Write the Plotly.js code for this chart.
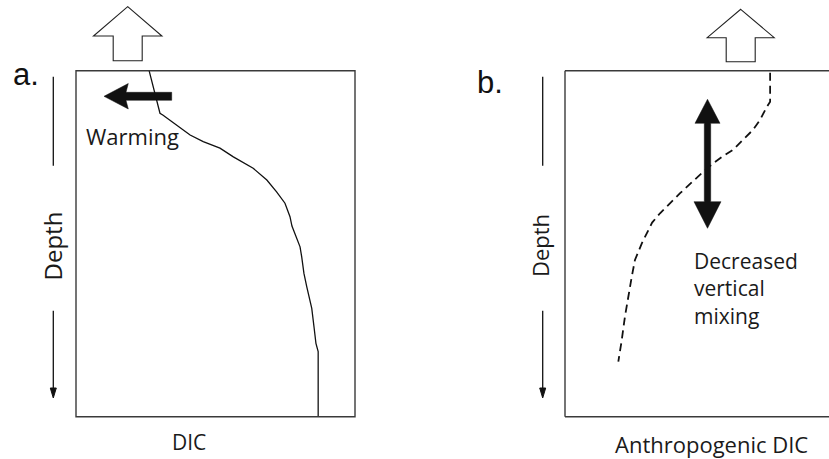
<!DOCTYPE html>
<html>
<head>
<meta charset="utf-8">
<script src="https://cdn.plot.ly/plotly-3.0.1.min.js"></script>
<style>
  html, body { margin: 0; padding: 0; background: #fff; }
  #chart { width: 829px; height: 459px; }
</style>
</head>
<body>
<div id="chart"></div>
<script>
// Panel a: DIC profile with depth (depth in % of the panel, DIC in relative units)
const dicA   = [26.2, 28.0, 29.0, 30.1, 31.1, 36.1, 40.9, 45.6, 51.6, 56.4, 63.5, 68.4, 71.9, 74.9,
                76.7, 77.4, 78.5, 80.3, 80.9, 81.7, 82.7, 83.9, 84.5, 85.3, 86.0, 86.8, 86.8];
const depthA = [0.0, 5.6, 9.3, 12.3, 12.8, 15.7, 18.6, 20.5, 22.4, 24.9, 28.2, 31.6, 35.0, 38.3,
                42.2, 44.9, 47.0, 50.9, 53.8, 58.6, 62.4, 66.3, 68.7, 74.0, 78.8, 81.2, 100.0];

// Panel b: anthropogenic DIC profile
const dicB   = [77.7, 77.7, 76.4, 73.9, 71.2, 67.4, 63.6, 59.5, 56.1, 51.1, 43.6, 36.0, 33.0,
                29.1, 26.5, 25.3, 24.0, 22.7, 21.5, 20.2];
const depthB = [0.6, 9.0, 10.5, 14.2, 17.1, 20.0, 22.9, 24.9, 26.8, 30.1, 35.4, 41.2, 43.9,
                49.9, 54.7, 59.5, 65.3, 71.1, 77.8, 84.1];

const panelLabels = ['a.', 'b.'];
const xTitles     = ['DIC', 'Anthropogenic DIC'];
const yTitle      = 'Depth';
const notes       = ['Warming', 'Decreased<br>vertical<br>mixing'];

const W = 829, H = 459;
const PX = x => x / W;
const PY = y => 1 - y / H;
const ink = '#111';
const frame = '#3a3a3a';
const txtFont = 'Open Sans, Noto Sans, sans-serif';

function path(pts, close) {
  return 'M ' + pts.map(p => PX(p[0]).toFixed(5) + ',' + PY(p[1]).toFixed(5)).join(' L ') + (close ? ' Z' : '');
}
function pathShape(pts, opts) {
  return Object.assign({ type: 'path', xref: 'paper', yref: 'paper', path: path(pts, true),
                         line: { color: ink, width: 1.2 }, fillcolor: 'rgba(0,0,0,0)' }, opts || {});
}
function seg(x0, y0, x1, y1, color, width) {
  return { type: 'line', xref: 'paper', yref: 'paper', x0: PX(x0), y0: PY(y0), x1: PX(x1), y1: PY(y1),
           line: { color: color, width: width } };
}
// hollow block arrow pointing up
function openArrow(cx, tip, base, halfHead, halfShaft, bottom) {
  return pathShape([[cx, tip], [cx + halfHead, base], [cx + halfShaft, base], [cx + halfShaft, bottom],
                    [cx - halfShaft, bottom], [cx - halfShaft, base], [cx - halfHead, base]],
                   { fillcolor: '#fff', line: { color: '#222', width: 1.1 } });
}
// depth axis: a short bar, then a down arrow
function depthAxis(x) {
  return [
    seg(x, 76.7, x, 165.7, ink, 1.3),
    seg(x, 310.7, x, 392, ink, 1.3),
    pathShape([[x, 398], [x + 3, 388], [x - 3, 388]], { fillcolor: ink, line: { color: ink, width: 1 } })
  ];
}

const traces = [
  { x: dicA, y: depthA, xaxis: 'x', yaxis: 'y', mode: 'lines', hoverinfo: 'skip',
    line: { color: ink, width: 1.3 } },
  { x: dicB, y: depthB, xaxis: 'x2', yaxis: 'y2', mode: 'lines', hoverinfo: 'skip',
    line: { color: ink, width: 1.8, dash: '8px,5px' } }
];

const yDom = [PY(416.7), PY(70.7)];
const hidden = { visible: false, fixedrange: true };

const shapes = [
  // panel a frame
  { type: 'rect', xref: 'paper', yref: 'paper', x0: PX(76), x1: PX(355), y0: PY(416.7), y1: PY(70.7),
    line: { color: frame, width: 1.4 } },
  // panel b frame (runs past the right edge)
  seg(565, 70.7, 835, 70.7, frame, 1.4),
  seg(565, 70.7, 565, 416.7, frame, 1.4),
  seg(565, 416.7, 835, 416.7, frame, 1.4),
  // upward hollow arrows
  openArrow(127.7, 6.7, 36, 34.2, 14.5, 60.7),
  openArrow(740.7, 9.3, 37.7, 33.5, 14.5, 61.7),
  // warming arrow pointing left
  pathShape([[104, 96.3], [128.3, 83.5], [126, 92.3], [171.7, 92.3], [171.7, 100.3], [126, 100.3], [128.3, 109]],
            { fillcolor: ink, line: { color: ink, width: 0.5 } }),
  // double-headed mixing arrow
  pathShape([[707.5, 99.3], [720, 123.3], [710.7, 123.3], [710.7, 201.7], [721, 201.7], [707.5, 228.3],
             [694, 201.7], [704.3, 201.7], [704.3, 123.3], [695, 123.3]],
            { fillcolor: ink, line: { color: ink, width: 0.5 } })
].concat(depthAxis(53.3), depthAxis(542.7));

function note(text, x, y, size, opts) {
  return Object.assign({ xref: 'paper', yref: 'paper', x: PX(x), y: PY(y), text: text, showarrow: false,
                         xanchor: 'center', yanchor: 'middle',
                         font: { family: txtFont, size: size, color: '#1a1a1a' } }, opts || {});
}

const annotations = [
  note(panelLabels[0], 11, 74.5, 30, { xanchor: 'left', font: { family: 'Liberation Sans, Arial, sans-serif', size: 31, color: '#111' } }),
  note(panelLabels[1], 475, 82.8, 30, { xanchor: 'left', font: { family: 'Liberation Sans, Arial, sans-serif', size: 31, color: '#111' } }),
  note(xTitles[0], 189.2, 441.6, 21),
  note(xTitles[1], 711.2, 443.5, 22),
  note(yTitle, 51.5, 246, 24, { textangle: -90 }),
  note(yTitle, 540, 246, 22, { textangle: -90 }),
  note(notes[0], 84, 136.3, 22, { xanchor: 'left' }),
  note(notes[1], 692, 288.6, 21, { xanchor: 'left', align: 'left' })
];

const layout = {
  width: W, height: H,
  margin: { l: 0, r: 0, t: 0, b: 0 },
  paper_bgcolor: '#fff', plot_bgcolor: 'rgba(0,0,0,0)',
  showlegend: false,
  xaxis:  Object.assign({ domain: [PX(76), PX(355)], range: [0, 100], anchor: 'y' }, hidden),
  yaxis:  Object.assign({ domain: yDom, range: [100, 0], anchor: 'x' }, hidden),
  xaxis2: Object.assign({ domain: [PX(565), 1], range: [0, 100], anchor: 'y2' }, hidden),
  yaxis2: Object.assign({ domain: yDom, range: [100, 0], anchor: 'x2' }, hidden),
  shapes: shapes,
  annotations: annotations
};

Plotly.newPlot('chart', traces, layout, { staticPlot: true, displayModeBar: false });
</script>
</body>
</html>
